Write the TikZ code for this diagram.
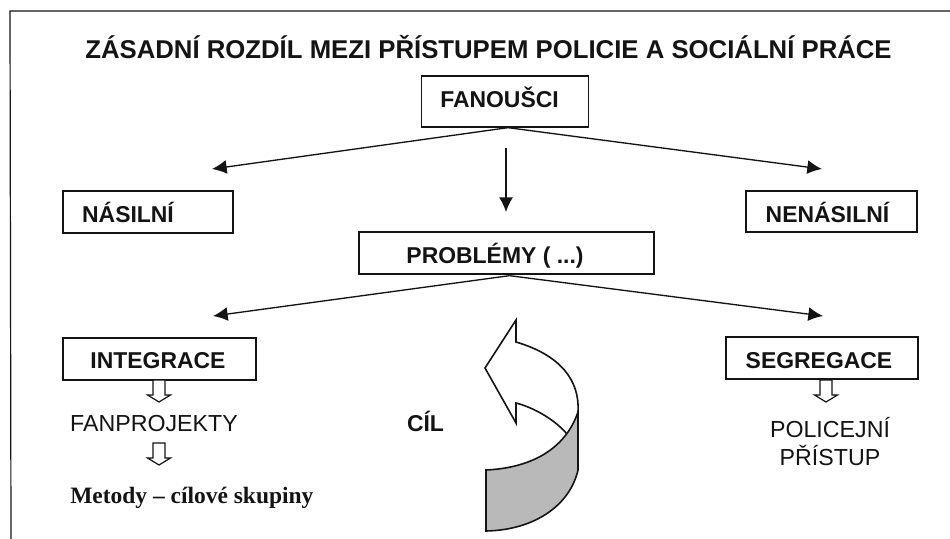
\documentclass[tikz,border=0pt]{standalone}
\usepackage{fontspec}
\setmainfont{Liberation Sans}
\newfontfamily\serifbold{Liberation Serif}
\usetikzlibrary{arrows.meta}
\definecolor{ink}{gray}{0.08}
\tikzset{
  x=0.75pt,y=-0.75pt,
  boxed/.style={draw=ink,line width=1pt,fill=white,inner sep=0pt,anchor=center},
  lab/.style={font=\fontsize{17.2}{20}\selectfont\bfseries,text=ink,inner sep=0pt,anchor=base},
  plainlab/.style={font=\fontsize{17.4}{20.3}\selectfont,text=ink,inner sep=0pt,align=center,anchor=base},
  conn/.style={draw=ink,line width=1pt,-{Latex[length=11pt,width=10.5pt]}},
  hollow/.style={draw=ink,line width=0.9pt,fill=white,line join=miter},
  curly/.style={draw=ink,line width=1.2pt,line join=miter},
}
\begin{document}
\begin{tikzpicture}
\useasboundingbox (0,0) rectangle (950,539);
\fill[white] (0,0) rectangle (950,539);
\coordinate (tl) at (10,11); \coordinate (tr) at (950,11); \coordinate (bl) at (11,539);
\draw[ink,line width=0.9pt] (tr) -- (tl) -- (bl);
\node[font=\fontsize{19.3}{22}\selectfont\bfseries,text=ink,inner sep=0pt,anchor=base] (title) at (488.5,58) {ZÁSADNÍ ROZDÍL MEZI PŘÍSTUPEM POLICIE A SOCIÁLNÍ PRÁCE};

\node[boxed,minimum width=125.25pt,minimum height=38.25pt] (fan) at (505,101.5) {};
\node[lab] (fant) at (499.5,107) {FANOUŠCI};
\node[boxed,minimum width=127.5pt,minimum height=31.5pt] (nas) at (148,212) {};
\node[lab] (nast) at (128,222) {NÁSILNÍ};
\node[boxed,minimum width=128.25pt,minimum height=30.75pt] (nen) at (831.5,211.5) {};
\node[lab] (nent) at (827.5,222) {NENÁSILNÍ};
\node[boxed,minimum width=221.25pt,minimum height=31.5pt] (prob) at (506.5,253) {};
\node[lab] (probt) at (495,263) {PROBLÉMY ( ...)};
\node[boxed,minimum width=144.75pt,minimum height=31.5pt] (int) at (159.5,359) {};
\node[lab] (intt) at (158,368) {INTEGRACE};
\node[boxed,minimum width=144pt,minimum height=31.5pt] (seg) at (822,358) {};
\node[lab] (segt) at (819,368) {SEGREGACE};

\coordinate (al) at (212,169); \coordinate (ar) at (822,169);
\coordinate (v0) at (506,148); \coordinate (v1) at (506,212);
\draw[conn] (fan.south) ++(3,0) -- (al);
\draw[conn] (fan.south) ++(3,0) -- (ar);
\draw[conn] (v0) -- (v1);
\coordinate (bl2) at (213,316); \coordinate (br2) at (823,316);
\draw[conn] (prob.south) ++(3,1) -- (bl2);
\draw[conn] (prob.south) ++(3,1) -- (br2);

\node[plainlab] (fp) at (154,431) {FANPROJEKTY};
\node[plainlab] (pp) at (830,465) {POLICEJNÍ\\PŘÍSTUP};
\node[lab] (cil) at (425.5,431) {CÍL};
\node[font=\fontsize{17.6}{20}\selectfont\bfseries\serifbold,text=ink,inner sep=0pt,anchor=base west] (met) at (70,503) {Metody – cílové skupiny};

\newcommand{\hdown}[2]{\draw[hollow] (#1-6,#2) -- (#1-6,#2+15) -- (#1-11.5,#2+15) -- (#1,#2+22) -- (#1+11.5,#2+15) -- (#1+6,#2+15) -- (#1+6,#2) -- cycle;}
\hdown{159}{380}
\hdown{159}{443}
\hdown{826}{380}

\fill[gray!55] (486,470) .. controls (530,468) and (565,450) .. (578,412) -- (578,470) .. controls (570,505) and (535,530) .. (486,531) -- cycle;
\draw[curly]
  (486,470) .. controls (530,468) and (565,450) .. (578,412)
  -- (578,470) .. controls (570,505) and (535,530) .. (486,531) -- cycle;
\draw[curly]
  (578,412) .. controls (580,380) and (560,355) .. (516,342)
  -- (516,320) -- (485,368) -- (516,423) -- (516,403)
  .. controls (535,408) and (555,420) .. (567,434);
\end{tikzpicture}
\end{document}
